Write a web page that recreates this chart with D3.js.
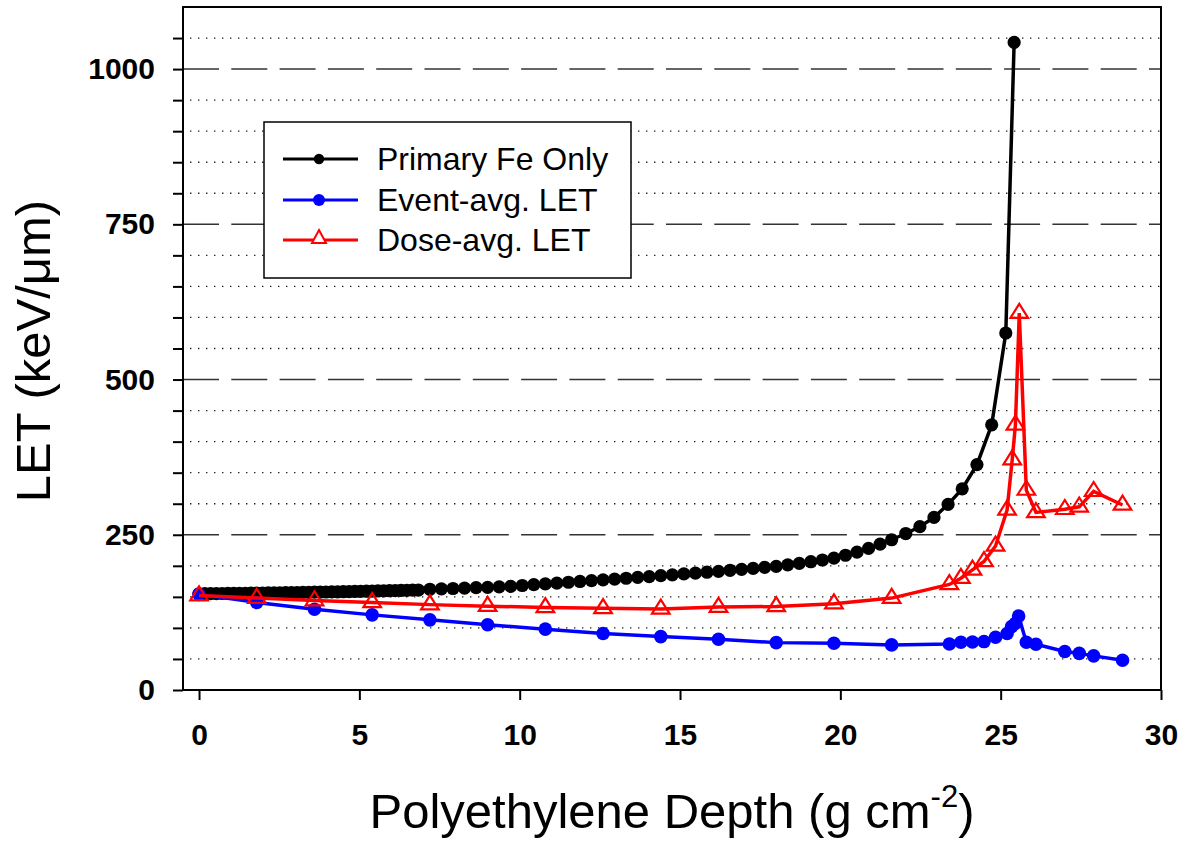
<!DOCTYPE html>
<html>
<head>
<meta charset="utf-8">
<script src="https://cdn.jsdelivr.net/npm/d3@7"></script>
<style>
  html, body { margin: 0; padding: 0; background: #fff; }
  svg { display: block; font-family: "Liberation Sans", Arial, Helvetica, sans-serif; }
</style>
</head>
<body>
<svg id="chart" width="1186" height="841"></svg>
<script>
// ---------------- DATA ----------------
const xTicks = [0, 5, 10, 15, 20, 25, 30];
const yMajorTicks = [0, 250, 500, 750, 1000];
const yMinorTicks = [50, 100, 150, 200, 300, 350, 400, 450, 550, 600, 650, 700, 800, 850, 900, 950, 1050];

const seriesNames = ["Primary Fe Only", "Event-avg. LET", "Dose-avg. LET"];

const primaryDepth = [
  0, 0.18, 0.36, 0.54, 0.72, 0.9, 1.08, 1.26, 1.44, 1.62, 1.8, 1.98, 2.16, 2.34, 2.52, 2.7, 2.88, 3.06, 3.24, 3.42,
  3.6, 3.78, 3.96, 4.14, 4.32, 4.5, 4.68, 4.86, 5.04, 5.22, 5.4, 5.58, 5.76, 5.94, 6.12, 6.3, 6.48, 6.66, 6.84,
  7.2, 7.56, 7.92, 8.28, 8.64, 9.0, 9.36, 9.72, 10.08, 10.44, 10.8, 11.16, 11.52, 11.88, 12.24, 12.6, 12.96, 13.32,
  13.68, 14.04, 14.4, 14.76, 15.12, 15.48, 15.84, 16.2, 16.56, 16.92, 17.28, 17.64, 18.0, 18.36, 18.72, 19.08,
  19.44, 19.8, 20.16, 20.52, 20.88, 21.24,
  21.6, 22.04, 22.48, 22.92, 23.36, 23.8, 24.26, 24.72, 25.16, 25.42
];
const primaryLET = [
  155.0, 155.1, 155.2, 155.3, 155.4, 155.5, 155.6, 155.7, 155.8, 156.0, 156.1, 156.2, 156.4, 156.5, 156.6, 156.8, 156.9, 157.0, 157.2, 157.3,
  157.5, 157.6, 157.8, 158.0, 158.1, 158.3, 158.5, 158.7, 158.9, 159.1, 159.3, 159.5, 159.7, 159.9, 160.1, 160.3, 160.5, 160.8, 161.0,
  162.3, 162.9, 163.5, 164.1, 164.8, 165.4, 166.1, 166.9, 168.3, 169.6, 170.9, 172.2, 173.5, 174.8, 176.1, 177.4, 178.6, 180.0,
  181.3, 182.7, 184.1, 185.5, 186.9, 188.3, 189.7, 191.1, 192.8, 194.4, 196.0, 197.6, 199.2, 201.6, 204.0, 206.6,
  209.4, 212.4, 217.0, 222.0, 228.0, 235.0,
  242, 252, 263, 278, 299, 324, 363, 427, 575, 1043
];

const eventDepth = [0, 1.8, 3.6, 5.4, 7.2, 9.0, 10.8, 12.6, 14.4, 16.2, 18.0, 19.8, 21.6, 23.4, 23.76, 24.12, 24.48, 24.84, 25.2, 25.34, 25.46, 25.56, 25.8, 26.1, 27.0, 27.45, 27.9, 28.8];
const eventLET   = [154, 141, 130, 121, 113, 105, 98, 91, 86, 81.7, 76.3, 75.3, 72.6, 74, 77, 77.4, 78, 85, 91, 102, 107.5, 119, 77, 73.7, 62, 59, 55, 48];

const doseDepth = [0, 1.8, 3.6, 5.4, 7.2, 9.0, 10.8, 12.6, 14.4, 16.2, 18.0, 19.8, 21.6, 23.4, 23.76, 24.12, 24.48, 24.84, 25.2, 25.36, 25.46, 25.58, 25.8, 26.1, 27.0, 27.45, 27.9, 28.8];
const doseLET   = [152, 148, 144, 141, 137.5, 135, 133, 131.5, 130.5, 133.5, 134.5, 139, 148, 170, 180, 193.5, 207, 232, 290, 371, 427, 607, 322, 286, 291, 295, 320, 298];

// ---------------- CHART ----------------
const svg = d3.select("#chart");
const L = 183, R = 1161, T = 7, B = 690;
const x = d3.scaleLinear().domain([-0.5, 30]).range([L, R]);
const y = d3.scaleLinear().domain([0, 1100]).range([B, T]);

// gridlines
const grid = svg.append("g");
grid.selectAll("line.minor").data(yMinorTicks).join("line")
  .attr("x1", L + 7).attr("x2", R).attr("y1", d => y(d)).attr("y2", d => y(d))
  .attr("stroke", "#222").attr("stroke-width", 1.3).attr("stroke-dasharray", "1.4,6.6");
grid.selectAll("line.major").data(yMajorTicks.filter(d => d > 0)).join("line")
  .attr("x1", L).attr("x2", R).attr("y1", d => y(d)).attr("y2", d => y(d))
  .attr("stroke", "#333").attr("stroke-width", 1.5).attr("stroke-dasharray", "36,12.3");

// frame (top + right)
svg.append("line").attr("x1", L).attr("x2", R + 1).attr("y1", T).attr("y2", T).attr("stroke", "#000").attr("stroke-width", 2);
svg.append("line").attr("x1", R).attr("x2", R).attr("y1", T).attr("y2", B).attr("stroke", "#000").attr("stroke-width", 2);

// axes
const xAxis = d3.axisBottom(x).tickValues(xTicks).tickSize(10).tickSizeOuter(0).tickPadding(24).tickFormat(d3.format("d"));
const gx = svg.append("g").attr("transform", `translate(0,${B})`).call(xAxis);
gx.select(".domain").attr("stroke-width", 2).attr("d", `M${L},0H${R + 1}`);
gx.selectAll(".tick line").attr("stroke-width", 2);
gx.selectAll(".tick text").attr("font-size", 30).attr("font-weight", "bold")
  .attr("font-family", "'Liberation Sans', Arial, sans-serif").attr("fill", "#000");

const yTickVals = yMajorTicks.concat(yMinorTicks).sort((a, b) => a - b);
const yAxis = d3.axisLeft(y).tickValues(yTickVals).tickSize(10).tickSizeOuter(0).tickPadding(18)
  .tickFormat(d => yMajorTicks.includes(d) ? d : "");
const gy = svg.append("g").attr("transform", `translate(${L},0)`).call(yAxis);
gy.select(".domain").attr("stroke-width", 2).attr("d", `M0,${B + 1}V${T - 1}`);
gy.selectAll(".tick line").attr("stroke-width", 2);
gy.selectAll(".tick text").attr("font-size", 30).attr("font-weight", "bold")
  .attr("font-family", "'Liberation Sans', Arial, sans-serif").attr("fill", "#000");

// axis titles
const xt = svg.append("text").attr("x", (L + R) / 2).attr("y", 828).attr("text-anchor", "middle")
  .attr("font-size", 49).attr("fill", "#000");
xt.append("tspan").text("Polyethylene Depth (g cm");
xt.append("tspan").attr("font-size", 31).attr("dy", -21).text("-2");
xt.append("tspan").attr("dy", 21).text(")");

svg.append("text").attr("transform", `translate(50,351) rotate(-90)`).attr("text-anchor", "middle")
  .attr("font-size", 49).attr("fill", "#000").text("LET (keV/\u03BCm)");

// series
const line = d3.line().x(d => x(d[0])).y(d => y(d[1]));
const tri = "M0,-9.3L8.8,4.7L-8.8,4.7Z";

const pData = primaryDepth.map((d, i) => [d, primaryLET[i]]);
const eData = eventDepth.map((d, i) => [d, eventLET[i]]);
const dData = doseDepth.map((d, i) => [d, doseLET[i]]);

const gP = svg.append("g");
gP.append("path").datum(pData).attr("d", line).attr("fill", "none").attr("stroke", "#000").attr("stroke-width", 3.5);
gP.selectAll("circle").data(pData).join("circle").attr("cx", d => x(d[0])).attr("cy", d => y(d[1])).attr("r", 6.6).attr("fill", "#000");

const gE = svg.append("g");
gE.append("path").datum(eData).attr("d", line).attr("fill", "none").attr("stroke", "#0000ff").attr("stroke-width", 3.5);
gE.selectAll("circle").data(eData).join("circle").attr("cx", d => x(d[0])).attr("cy", d => y(d[1])).attr("r", 6.8).attr("fill", "#0000ff");

const gD = svg.append("g");
gD.append("path").datum(dData).attr("d", line).attr("fill", "none").attr("stroke", "#ff0000").attr("stroke-width", 3.5);
gD.selectAll("path.m").data(dData).join("path").attr("class", "m").attr("d", tri)
  .attr("transform", d => `translate(${x(d[0])},${y(d[1])})`)
  .attr("fill", "none").attr("stroke", "#ff0000").attr("stroke-width", 2.2);

// legend
const lg = svg.append("g");
lg.append("rect").attr("x", 264).attr("y", 122).attr("width", 367).attr("height", 156)
  .attr("fill", "#fff").attr("stroke", "#000").attr("stroke-width", 1.5);
const legendRows = [
  { name: seriesNames[0], color: "#000", marker: "dot", r: 5.2, y: 159 },
  { name: seriesNames[1], color: "#0000ff", marker: "dot", r: 6, y: 200 },
  { name: seriesNames[2], color: "#ff0000", marker: "tri", y: 240 }
];
legendRows.forEach(row => {
  lg.append("line").attr("x1", 283).attr("x2", 358).attr("y1", row.y).attr("y2", row.y)
    .attr("stroke", row.color).attr("stroke-width", 3.2);
  if (row.marker === "dot") {
    lg.append("circle").attr("cx", 319).attr("cy", row.y).attr("r", row.r).attr("fill", row.color);
  } else {
    lg.append("path").attr("d", "M0,-8L7,5L-7,5Z").attr("transform", `translate(319,${row.y - 2})`)
      .attr("fill", "#fff").attr("stroke", row.color).attr("stroke-width", 2);
  }
  lg.append("text").attr("x", 377).attr("y", row.y + 11).attr("font-size", 32).attr("fill", "#000").text(row.name);
});
</script>
</body>
</html>
